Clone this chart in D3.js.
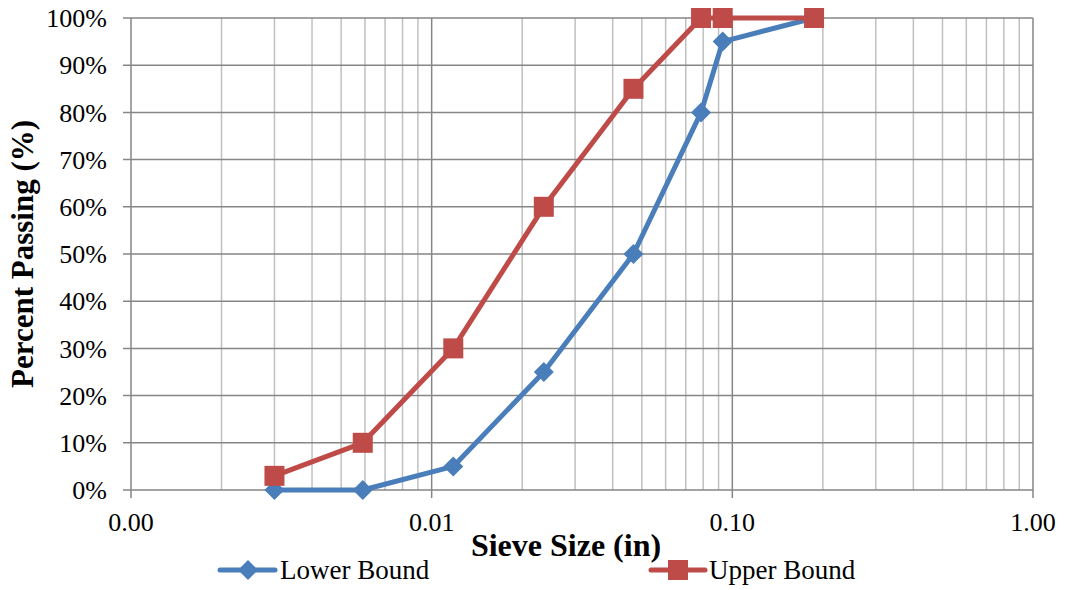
<!DOCTYPE html>
<html>
<head>
<meta charset="utf-8">
<script src="https://cdn.jsdelivr.net/npm/d3@7/dist/d3.min.js"></script>
<style>
  html, body { margin: 0; padding: 0; background: #fff; }
  svg { display: block; }
  text { font-family: "Liberation Serif", "Times New Roman", serif; fill: #000; }
</style>
</head>
<body>
<svg id="chart" width="1068" height="590"></svg>
<script>
// Sieve sizes (in) and percent passing for the gradation band
const sieveSizes = [0.003, 0.0059, 0.0118, 0.0236, 0.0469, 0.0787, 0.0929, 0.187];
const lowerBound = [0, 0, 5, 25, 50, 80, 95, 100];
const upperBound = [3, 10, 30, 60, 85, 100, 100, 100];
const xTickValues = [0.001, 0.01, 0.1, 1];
const xTickLabels = ["0.00", "0.01", "0.10", "1.00"];
const yTickValues = [0, 10, 20, 30, 40, 50, 60, 70, 80, 90, 100];
const seriesNames = ["Lower Bound", "Upper Bound"];

const svg = d3.select("#chart");
const plot = { left: 131, right: 1033, top: 18, bottom: 490 };

const x = d3.scaleLog().domain([0.001, 1]).range([plot.left, plot.right]);
const y = d3.scaleLinear().domain([0, 100]).range([plot.bottom, plot.top]);

// Minor log gridlines (2..9 within each decade)
const minor = [];
for (let d = 0.001; d < 1; d *= 10) {
  for (let k = 2; k <= 9; k++) minor.push(d * k);
}
svg.append("g").selectAll("line").data(minor).join("line")
  .attr("x1", d => x(d)).attr("x2", d => x(d))
  .attr("y1", plot.top).attr("y2", plot.bottom)
  .attr("stroke", "#c0c0c0").attr("stroke-width", 1.5);

// Horizontal gridlines with outward ticks on the left
svg.append("g").selectAll("line").data(yTickValues).join("line")
  .attr("x1", plot.left - 8).attr("x2", plot.right)
  .attr("y1", d => y(d)).attr("y2", d => y(d))
  .attr("stroke", "#868686").attr("stroke-width", 1.5);

// Major log gridlines with outward ticks below
svg.append("g").selectAll("line").data(xTickValues).join("line")
  .attr("x1", d => x(d)).attr("x2", d => x(d))
  .attr("y1", plot.top).attr("y2", plot.bottom + 8)
  .attr("stroke", "#868686").attr("stroke-width", 1.5);

// Y tick labels
svg.append("g").selectAll("text").data(yTickValues).join("text")
  .attr("x", 107).attr("y", d => y(d))
  .attr("dy", "0.35em")
  .attr("text-anchor", "end")
  .style("font-size", "26px")
  .text(d => d + "%");

// X tick labels
svg.append("g").selectAll("text").data(xTickValues).join("text")
  .attr("x", d => x(d)).attr("y", 531)
  .attr("text-anchor", "middle")
  .style("font-size", "26px")
  .text((d, i) => xTickLabels[i]);

// Axis titles
svg.append("text")
  .attr("x", 566).attr("y", 556)
  .attr("text-anchor", "middle")
  .style("font-size", "32px").style("font-weight", "bold")
  .text("Sieve Size (in)");

svg.append("text")
  .attr("transform", "translate(33,254) rotate(-90)")
  .attr("text-anchor", "middle")
  .style("font-size", "31px").style("font-weight", "bold")
  .text("Percent Passing (%)");

const colors = ["#4a7ebb", "#be4b48"];
const series = [lowerBound, upperBound];

const line = d3.line()
  .x((d, i) => x(sieveSizes[i]))
  .y(d => y(d));

series.forEach((vals, si) => {
  svg.append("path")
    .datum(vals)
    .attr("d", line)
    .attr("fill", "none")
    .attr("stroke", colors[si])
    .attr("stroke-width", 5)
    .attr("stroke-linejoin", "round");
});

function drawMarker(g, si, cx, cy) {
  if (si === 0) {
    g.append("path")
      .attr("d", d3.symbol().type(d3.symbolSquare).size(200)())
      .attr("transform", `translate(${cx},${cy}) rotate(45)`)
      .attr("fill", colors[0]);
  } else {
    g.append("rect")
      .attr("x", cx - 10).attr("y", cy - 10)
      .attr("width", 20).attr("height", 20)
      .attr("fill", colors[1]);
  }
}

series.forEach((vals, si) => {
  const g = svg.append("g");
  vals.forEach((v, i) => drawMarker(g, si, x(sieveSizes[i]), y(v)));
});

// Legend
const legendItems = [
  { x1: 220, x2: 275, mx: 248, tx: 280 },
  { x1: 651, x2: 705, mx: 678, tx: 709 }
];
const ly = 570;
legendItems.forEach((it, si) => {
  const g = svg.append("g");
  g.append("line")
    .attr("x1", it.x1).attr("x2", it.x2)
    .attr("y1", ly).attr("y2", ly)
    .attr("stroke", colors[si]).attr("stroke-width", 5)
    .attr("stroke-linecap", "round");
  drawMarker(g, si, it.mx, ly);
  g.append("text")
    .attr("x", it.tx).attr("y", ly)
    .attr("dy", "0.33em")
    .style("font-size", "27px")
    .text(seriesNames[si]);
});
</script>
</body>
</html>
